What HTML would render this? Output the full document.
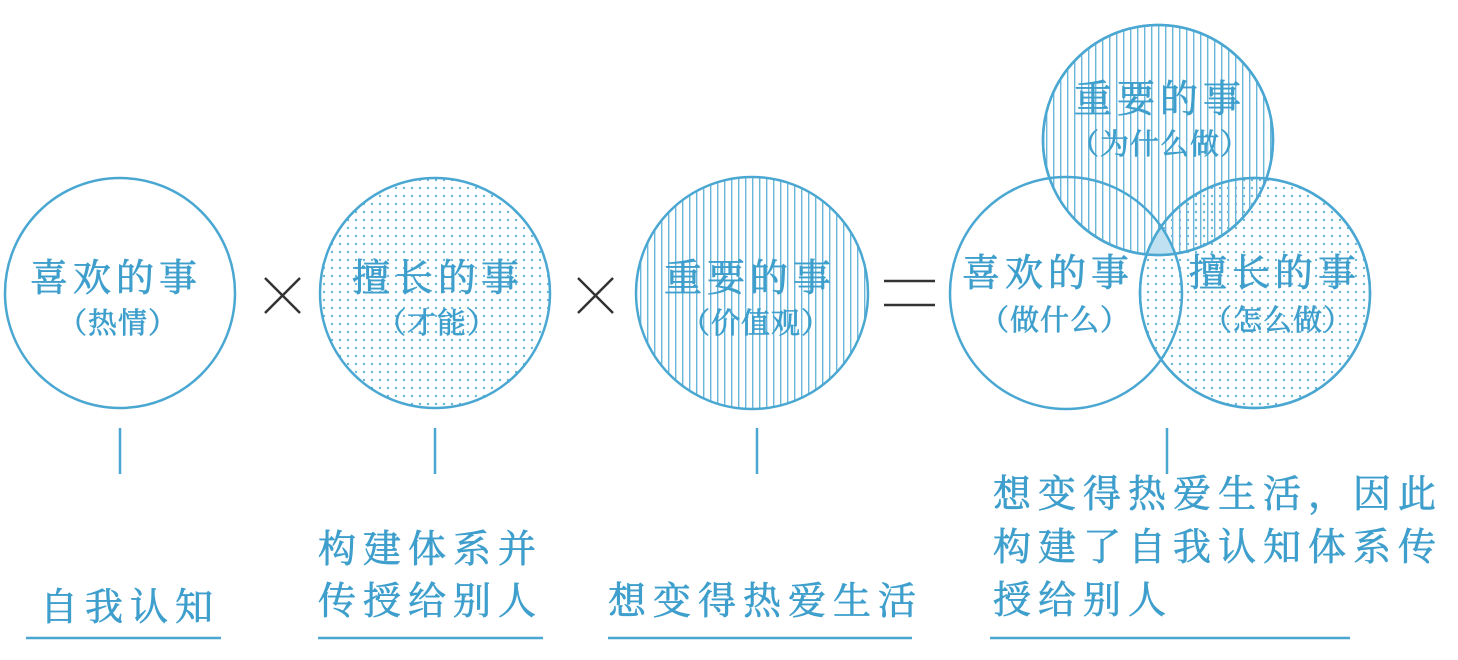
<!DOCTYPE html>
<html><head><meta charset="utf-8"><style>
html,body{margin:0;padding:0;background:#fff;}
svg{display:block}
text{font-family:"Liberation Serif","Noto Serif CJK SC",serif;fill:#3f9fcc;stroke:#3f9fcc;stroke-width:0.7;}
</style></head><body>
<svg width="1458" height="660" viewBox="0 0 1458 660" xmlns="http://www.w3.org/2000/svg">
<defs>
<pattern id="dots" width="8" height="8" patternUnits="userSpaceOnUse"><circle cx="4" cy="4" r="1.2" fill="#6ab6da"/></pattern>
<pattern id="stripes" width="7" height="8" patternUnits="userSpaceOnUse"><rect x="3" y="0" width="1.4" height="8" fill="#6ab6da"/></pattern>
<clipPath id="cL"><circle cx="1066" cy="293" r="116"/></clipPath>
<clipPath id="cR"><circle cx="1255" cy="293" r="115"/></clipPath>
</defs>
<g fill="none" stroke="#4aa7d2" stroke-width="2.5">
<circle cx="120" cy="293" r="115"/>
<circle cx="435" cy="293" r="115" fill="url(#dots)"/>
<circle cx="752" cy="293" r="116" fill="url(#stripes)"/>
<circle cx="1255" cy="293" r="115" fill="url(#dots)"/>
<circle cx="1158" cy="140" r="115" fill="url(#stripes)"/>
<g clip-path="url(#cL)"><circle cx="1158" cy="140" r="115" clip-path="url(#cR)" fill="#bfe1f1" stroke="none"/></g>
<circle cx="1066" cy="293" r="116"/>
<circle cx="1255" cy="293" r="115"/>
<circle cx="1158" cy="140" r="115"/>
<line x1="120" y1="428" x2="120" y2="474"/>
<line x1="435" y1="428" x2="435" y2="474"/>
<line x1="757" y1="428" x2="757" y2="474"/>
<line x1="1167" y1="428" x2="1167" y2="474"/>
<line x1="26" y1="638" x2="221" y2="638"/>
<line x1="318" y1="638" x2="543" y2="638"/>
<line x1="608" y1="638" x2="912" y2="638"/>
<line x1="990" y1="638" x2="1350" y2="638"/>
</g>
<g stroke="#333" stroke-width="2.5">
<line x1="265" y1="278" x2="300" y2="313"/><line x1="300" y1="278" x2="265" y2="313"/>
<line x1="578" y1="278" x2="613" y2="313"/><line x1="613" y1="278" x2="578" y2="313"/>
<line x1="884" y1="281" x2="935" y2="281"/><line x1="884" y1="305" x2="935" y2="305"/>
</g>
<g font-size="38" text-anchor="middle" letter-spacing="5">
<text x="116" y="291">喜欢的事</text>
<text x="438" y="291">擅长的事</text>
<text x="750" y="291">重要的事</text>
<text x="1048" y="286">喜欢的事</text>
<text x="1275" y="286">擅长的事</text>
<text x="1160" y="112">重要的事</text>
</g>
<g font-size="29" text-anchor="middle" letter-spacing="1">
<text x="118" y="333">（热情）</text>
<text x="437" y="333">（才能）</text>
<text x="756" y="333">（价值观）</text>
<text x="1055" y="330">（做什么）</text>
<text x="1278" y="330">（怎么做）</text>
<text x="1160" y="154">（为什么做）</text>
</g>
<g font-size="38" letter-spacing="7">
<text x="40" y="620">自我认知</text>
<text x="318" y="562">构建体系并</text>
<text x="318" y="614">传授给别人</text>
<text x="608" y="614">想变得热爱生活</text>
<text x="993" y="507">想变得热爱生活，因此</text>
<text x="993" y="560">构建了自我认知体系传</text>
<text x="993" y="613">授给别人</text>
</g>
</svg>
</body></html>
